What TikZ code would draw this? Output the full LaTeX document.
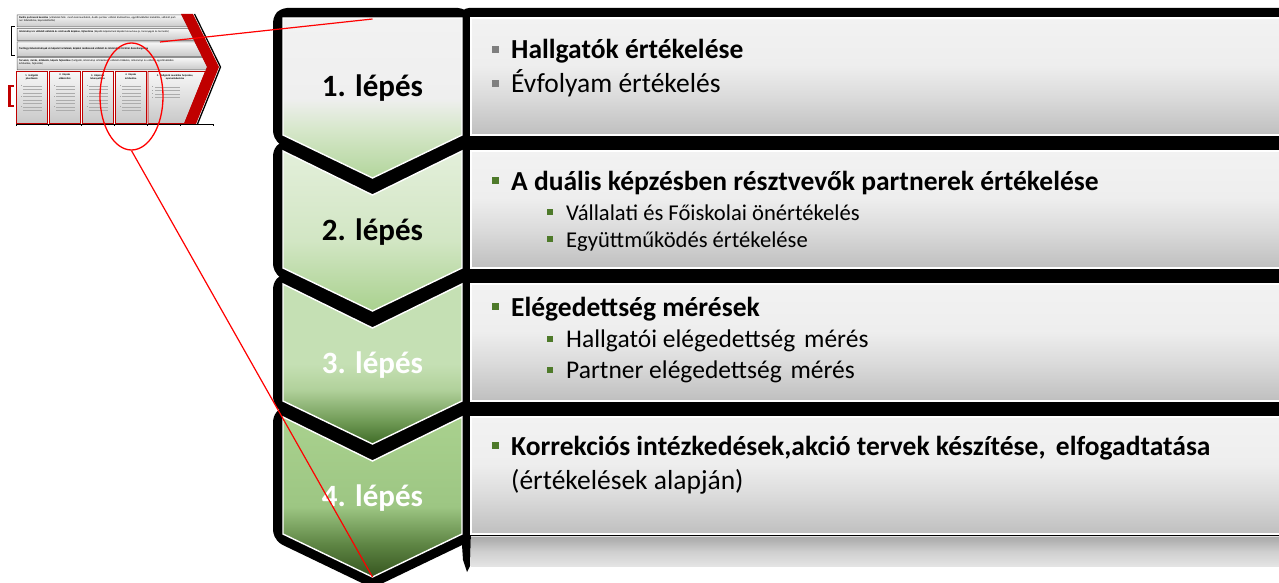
\documentclass[tikz,border=0pt]{standalone}
\usepackage{fontspec}
\setmainfont{Carlito}
\usetikzlibrary{shapes.geometric}

\definecolor{cAb}{HTML}{B2D59B}
\definecolor{cAm}{HTML}{D6E7CA}
\definecolor{cAt}{HTML}{EFEFEF}
\definecolor{cAtt}{HTML}{F2F2F2}
\definecolor{cBb}{HTML}{A9D18E}
\definecolor{cBm}{HTML}{D2E6C4}
\definecolor{cBt}{HTML}{E3EFDA}
\definecolor{cCb}{HTML}{3F6B27}
\definecolor{cCm}{HTML}{6F9A55}
\definecolor{cCn}{HTML}{B1D19B}
\definecolor{cCt}{HTML}{C5E0B4}
\definecolor{cDb}{HTML}{36551F}
\definecolor{cDm}{HTML}{5D8443}
\definecolor{cDn}{HTML}{9DC683}
\definecolor{cDt}{HTML}{A9D18E}
\definecolor{pB}{HTML}{BFBFBF}
\definecolor{pM}{HTML}{DCDCDC}
\definecolor{pN}{HTML}{EEEEEE}
\definecolor{pT}{HTML}{F2F2F2}
\definecolor{bandB}{HTML}{E4E4E4}
\definecolor{bandM}{HTML}{CFCFCF}
\definecolor{bandT}{HTML}{A9A9A9}
\definecolor{thB}{HTML}{C8C8C8}
\definecolor{thT}{HTML}{F7F7F7}
\definecolor{bulgray}{HTML}{7F7F7F}
\definecolor{bulgreen}{HTML}{4E7A2A}
\definecolor{thred}{HTML}{C00000}

\pgfdeclareverticalshading{chevone}{100bp}{color(0bp)=(cAb); color(25bp)=(cAb); color(40bp)=(cAm); color(50bp)=(cAt); color(75bp)=(cAtt); color(100bp)=(cAtt)}
\pgfdeclareverticalshading{chevtwo}{100bp}{color(0bp)=(cBb); color(25bp)=(cBb); color(47bp)=(cBm); color(75bp)=(cBt); color(100bp)=(cBt)}
\pgfdeclareverticalshading{chevthree}{100bp}{color(0bp)=(cCb); color(25bp)=(cCb); color(32bp)=(cCm); color(42bp)=(cCn); color(50bp)=(cCt); color(75bp)=(cCt); color(100bp)=(cCt)}
\pgfdeclareverticalshading{chevfour}{100bp}{color(0bp)=(cDb); color(25bp)=(cDb); color(35bp)=(cDm); color(47bp)=(cDn); color(75bp)=(cDt); color(100bp)=(cDt)}
\pgfdeclareverticalshading{panelsh}{100bp}{color(0bp)=(pB); color(25bp)=(pB); color(42bp)=(pM); color(55bp)=(pN); color(75bp)=(pT); color(100bp)=(pT)}
\pgfdeclareverticalshading{bandsh}{100bp}{color(0bp)=(bandB); color(25bp)=(bandB); color(50bp)=(bandM); color(75bp)=(bandT); color(100bp)=(bandT)}
\pgfdeclareverticalshading{thumbsh}{100bp}{color(0bp)=(thB); color(25bp)=(thB); color(75bp)=(thT); color(100bp)=(thT)}

\begin{document}
\begin{tikzpicture}[x=1pt,y=-1pt,
  blackout/.style={draw=black, line width=20pt, line join=round, rounded corners=4pt},
  rim/.style={draw=white, line width=1.4pt},
  steplbl/.style={anchor=base, inner sep=0pt, font=\fontsize{31}{37}\selectfont\bfseries},
  mainln/.style={anchor=base west, inner sep=0pt, font=\fontsize{27.5}{33}\selectfont},
  subln/.style={anchor=base west, inner sep=0pt, font=\fontsize{22.6}{27}\selectfont},
  subbig/.style={anchor=base west, inner sep=0pt, font=\fontsize{25.5}{30}\selectfont},
  redln/.style={draw=red, line width=1.2pt},
  thumbtxt/.style={anchor=north west, inner sep=0pt, align=left, text width=158pt, font=\fontsize{2.7}{3.3}\selectfont},
  boxhead/.style={anchor=north, inner sep=0pt, align=center, font=\fontsize{2.6}{3.1}\selectfont\bfseries},
  thumbbox/.style={shading=thumbsh, draw=thred, line width=0.9pt},
  thumbrow/.style={shading=thumbsh, draw=black!65, line width=0.5pt},
  fakeline/.style={draw=gray!65, line width=0.7pt}
]
\clip (0,0) rectangle (1279,583);
\fill[white] (0,0) rectangle (1279,583);

% ---------- black outlines ----------
\draw[blackout] (283,18) -- (462,18) -- (462,135) -- (372.5,178) -- (283,135) -- cycle;
\draw[blackout] (283,151) -- (372.5,195) -- (462,151) -- (462,268) -- (372.5,311) -- (283,268) -- cycle;
\draw[blackout] (283,284) -- (372.5,328) -- (462,284) -- (462,401) -- (372.5,444) -- (283,401) -- cycle;
\draw[blackout] (283,417) -- (372.5,461) -- (462,417) -- (462,534) -- (372.5,577) -- (283,534) -- cycle;
\fill[black, rounded corners=8pt] (461,8) rectangle (1320,145);
\fill[black, rounded corners=8pt] (461,141) rectangle (1320,278);
\fill[black, rounded corners=8pt] (461,274) rectangle (1320,411);
\fill[black, rounded corners=8pt] (461,407) rectangle (1320,536);
\fill[black] (461,530) -- (471,530) -- (470,566) -- (467,572) -- (463,560) -- cycle;

% ---------- chevron fills ----------
\shade[shading=chevone, rim] (283,18) -- (462,18) -- (462,135) -- (372.5,178) -- (283,135) -- cycle;
\shade[shading=chevtwo, rim] (283,151) -- (372.5,195) -- (462,151) -- (462,268) -- (372.5,311) -- (283,268) -- cycle;
\shade[shading=chevthree, rim] (283,284) -- (372.5,328) -- (462,284) -- (462,401) -- (372.5,444) -- (283,401) -- cycle;
\shade[shading=chevfour, rim] (283,417) -- (372.5,461) -- (462,417) -- (462,534) -- (372.5,577) -- (283,534) -- cycle;

% ---------- panels ----------
\shade[shading=panelsh, rim] (471,18) rectangle (1300,135);
\shade[shading=panelsh, rim] (471,151) rectangle (1300,268);
\shade[shading=panelsh, rim] (471,284) rectangle (1300,401);
\shade[shading=panelsh, rim] (471,417) rectangle (1300,534);
\shade[shading=bandsh] (471,537) rectangle (1300,566);

% ---------- step labels ----------
\node[steplbl] (s1) at (372.5,97) {1. lépés};
\node[steplbl] (s2) at (372.5,240) {2. lépés};
\node[steplbl, text=white] (s3) at (372.5,373) {3. lépés};
\node[steplbl, text=white] (s4) at (372.5,506) {4. lépés};

% ---------- panel 1 ----------
\fill[bulgray] (492,46) rectangle (499,53);
\node[mainln, font=\fontsize{27.5}{33}\selectfont\bfseries] (p1a) at (511,59) {Hallgatók értékelése};
\fill[bulgray] (492,80) rectangle (499,87);
\node[mainln] (p1b) at (511,93) {Évfolyam értékelés};

% ---------- panel 2 ----------
\fill[bulgreen] (492,177) rectangle (499,184);
\node[mainln, font=\fontsize{27.5}{33}\selectfont\bfseries] (p2a) at (511,190) {A duális képzésben résztvevők partnerek értékelése};
\fill[bulgreen] (547,209) rectangle (553,215);
\node[subln] (p2b) at (566,220) {Vállalati és Főiskolai önértékelés};
\fill[bulgreen] (547,236) rectangle (553,242);
\node[subln] (p2c) at (566,247) {Együttműködés értékelése};

% ---------- panel 3 ----------
\fill[bulgreen] (492,303) rectangle (499,310);
\node[mainln, font=\fontsize{27.5}{33}\selectfont\bfseries] (p3a) at (511,316) {Elégedettség mérések};
\fill[bulgreen] (547,336) rectangle (553,342);
\node[subbig] (p3b) at (566,347) {Hallgatói elégedettség\hspace{0.12em} mérés};
\fill[bulgreen] (547,367) rectangle (553,373);
\node[subbig] (p3c) at (566,378) {Partner elégedettség\hspace{0.12em} mérés};

% ---------- panel 4 ----------
\fill[bulgreen] (492,442) rectangle (499,449);
\node[mainln, font=\fontsize{27.5}{33}\selectfont\bfseries] (p4a) at (511,455) {Korrekciós intézkedések,akció tervek készítése,\hspace{0.15em} elfogadtatása};
\node[mainln] (p4b) at (511,489) {(értékelések alapján)};

% ---------- thumbnail ----------
\draw[black, line width=1.3pt] (194.5,14) -- (220.5,67) -- (197.5,124);
\shade[thumbrow] (17,15) -- (182,15) -- (188,27) -- (17,27) -- cycle;
\shade[thumbrow] (17,28.5) -- (188.5,28.5) -- (194.5,40.5) -- (17,40.5) -- cycle;
\shade[thumbrow] (17,42) -- (195,42) -- (202.5,56.5) -- (17,56.5) -- cycle;
\shade[thumbrow] (17,57.5) -- (203,57.5) -- (207.5,67) -- (206,70) -- (17,70) -- cycle;
\node[thumbtxt] (r1) at (19,16.5) {\textbf{Duális partnerek kezelése} (vállalatok felé: mesh kommunikáció, duális partner vállalat kiválasztása, együttműködési kialakítás, vállalati partner felkészítése, kapcsolattartás)};
\node[thumbtxt] (r2) at (19,30) {\textbf{Intézményi és vállalati oktatók és résztvevők képzése, fejlesztése} (képzők képzésének képzési know-how-ja, tananyagok és termelés)};
\node[thumbtxt] (r3) at (19,47.5) {\textbf{Tantárgyi követelmények és képzési tartalmak, képzési módszerek vállalati és intézményi történő összehangolása}};
\node[thumbtxt] (r4) at (19,59) {\textbf{Tervezés, mérés, értékelés, képzés fejlesztése} (hallgatói, intézményi értékelések, vállalati értékelés, intézményi és vállalati együttműködés értékelése, fejlesztés)};

\shade[thumbbox] (16.5,71.5) rectangle (47,123.5);
\shade[thumbbox] (49.5,71.5) rectangle (80,123.5);
\shade[thumbbox] (82.5,71.5) rectangle (113,123.5);
\shade[thumbbox] (115.5,71.5) rectangle (146,123.5);
\shade[thumbbox] (148,71.5) -- (205.5,71.5) -- (184.5,123.5) -- (148,123.5) -- cycle;
\node[boxhead, text width=27pt] (b1) at (31.75,74) {1. Hallgatói\\jelentkezés};
\node[boxhead, text width=27pt] (b2) at (64.75,74) {2. Képzés\\előkészítés};
\node[boxhead, text width=27pt] (b3) at (97.75,74) {3. Képzések\\lebonyolítása};
\node[boxhead, text width=27pt] (b4) at (130.75,74) {4. Képzés\\értékelése};
\node[boxhead, text width=50pt] (b5) at (175,74) {5. Hallgatók munkába helyezése,\\nyomonkövetése};
\foreach \bx in {20.5,53.5,86.5,119.5}{
  \foreach \by in {86,89.5,93,96.5,100,103.5,107,110.5}{
    \draw[fakeline] (\bx+2.5,\by) -- (\bx+21,\by);
  }
  \fill[gray!70] (\bx,85.5) rectangle ++(1,1);
  \fill[gray!70] (\bx,96) rectangle ++(1,1);
  \fill[gray!70] (\bx,106.5) rectangle ++(1,1);
}
\foreach \by in {87,90.5,94,97.5}{
  \fill[gray!70] (152,\by-0.5) rectangle ++(1,1);
  \draw[fakeline] (155,\by) -- (180,\by);
}
\draw[black, line width=0.8pt] (16,124.5) -- (214,124.5);
\foreach \tx in {16,48.2,81.2,114.2,147,180,213}{
  \draw[black, line width=0.6pt] (\tx,124.5) -- (\tx,126.5);
}
\fill[thred] (181,14) -- (193,14) -- (219,67) -- (196,124) -- (184,124) -- (207,67) -- cycle;
\draw[black, line width=0.9pt] (14.5,26) -- (11.5,26) -- (11.5,55) -- (14.5,55);
\draw[thred, line width=2.2pt] (13.5,86) -- (9.5,86) -- (9.5,106) -- (13.5,106);

% ---------- red zoom marks ----------
\coordinate (thumbpt) at (160,42);
\coordinate (c1top) at (372.5,19);
\coordinate (c4tip) at (372.5,577);
\node[ellipse, draw=red, line width=1.3pt, minimum width=63pt, minimum height=107pt, inner sep=0pt] (zoomring) at (131.5,96.5) {};
\draw[redln] (thumbpt) -- (c1top);
\draw[redln] (zoomring.south) -- (c4tip);
\end{tikzpicture}
\end{document}
